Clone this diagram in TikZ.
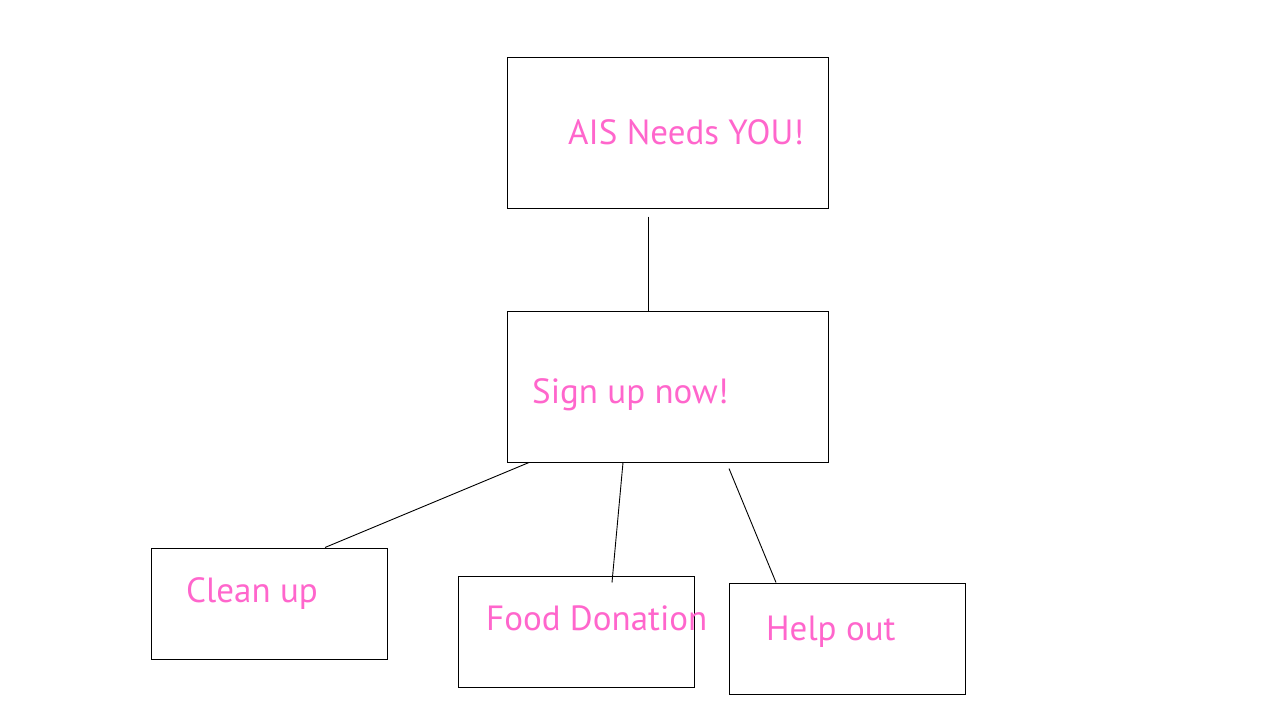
\documentclass[tikz,border=0pt]{standalone}
\usepackage{fontspec}
\setmainfont{PT Sans}
\usepackage{tikz}
\usetikzlibrary{positioning}
\definecolor{signpink}{HTML}{FF66CC}

\begin{document}
\begin{tikzpicture}[x=1pt, y=-1pt,
        box/.style={draw=black, line width=1pt, minimum width=#1, inner sep=0pt},
        box/.default=236pt,
        tag/.style={anchor=base west, inner sep=0pt, text=signpink, font=\fontsize{35}{40}\selectfont},
        link/.style={draw=black, line width=0.9pt}]
    \useasboundingbox (0,0) rectangle (1280,720);
    \node[box=321pt, minimum height=151pt] (ais) at (667.5,132.5) {};
    \node[box=321pt, minimum height=151pt] (sign) at (667.5,386.5) {};
    \node[box, minimum height=111pt] (clean) at (269,603.5) {};
    \node[box, minimum height=111pt] (food) at (576,631.5) {};
    \node[box, minimum height=111pt] (help) at (847,638.5) {};

    \node[tag] (aistext) at (568,144) {AIS Needs YOU!};
    \node[tag] (signtext) at (532,403) {Sign up now!};
    \node[tag] (cleantext) at (186,602) {Clean up};
    \node[tag] (foodtext) at (486,630) {Food Donation};
    \node[tag] (helptext) at (766,640) {Help out};

    \draw[link] ([shift={(-19.5,8)}]ais.south) -- ([xshift=-19.5pt]sign.north);
    \draw[link] ([xshift=-138.5pt]sign.south) -- ([xshift=56pt]clean.north);
    \draw[link] ([xshift=-44.5pt]sign.south) -- ([shift={(36,7)}]food.north);
    \draw[link] ([shift={(61.5,6)}]sign.south) -- ([xshift=-71pt]help.north);
\end{tikzpicture}
\end{document}
